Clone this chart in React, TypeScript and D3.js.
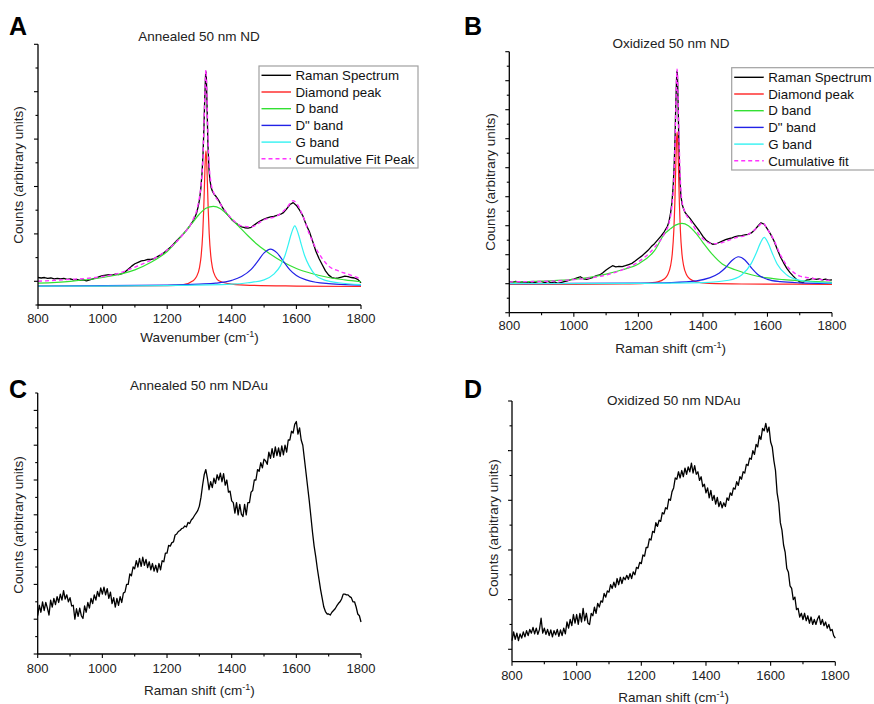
import React from 'react';
import * as d3 from 'd3';

const FONT = '"Liberation Sans", Arial, Helvetica, sans-serif';
const NARROW = '"Liberation Sans Narrow", "Arial Narrow", "Liberation Sans", Arial, sans-serif';

// ---------- shared axis data ----------
const xTickLabels = [800, 1000, 1200, 1400, 1600, 1800];
const xMinorTicks = [900, 1100, 1300, 1500, 1700];

// x grids (cm-1)
const gridLeft = d3.range(800, 1295, 10);
const gridPeak = [1295, 1300, 1304, 1308, 1311, 1314, 1316, 1318, 1319, 1320, 1321, 1322, 1324, 1326, 1329, 1332, 1336, 1340, 1345];
const gridRight = d3.range(1350, 1801, 10);
const shiftAB = [...gridLeft, ...gridPeak, ...gridRight];
const shiftCD = d3.range(800, 1801, 5);

// ---------- Panel A : Annealed 50 nm ND ----------
const ramanA = [
  0.08, 0.07, 0.08, 0.06, 0.07, 0.05, 0.06, 0.05, 0.06, 0.04,
  0.05, 0.03, 0.04, 0.02, 0.03, 0.01, 0.03, 0.05, 0.07, 0.1,
  0.12, 0.13, 0.14, 0.13, 0.15, 0.14, 0.16, 0.2, 0.26, 0.32,
  0.37, 0.4, 0.43, 0.44, 0.46, 0.46, 0.48, 0.52, 0.56, 0.6,
  0.66, 0.72, 0.79, 0.86, 0.93, 1.0, 1.08, 1.17, 1.27, 1.42,
  1.55, 1.72, 1.95, 2.3, 2.7, 3.3, 3.8, 4.2, 4.38, 4.42, 4.35, 4.1, 3.5, 2.9, 2.4, 2.15, 1.98, 1.9, 1.84,
  1.8, 1.7, 1.57, 1.46, 1.38, 1.3, 1.24, 1.19, 1.15, 1.13,
  1.12, 1.14, 1.19, 1.24, 1.28, 1.31, 1.34, 1.36, 1.37, 1.39,
  1.41, 1.45, 1.53, 1.62, 1.66, 1.6, 1.5, 1.38, 1.2, 1.05,
  0.85, 0.64, 0.48, 0.35, 0.22, 0.13, 0.08, 0.06, 0.07, 0.09,
  0.11, 0.1, 0.08, 0.07, 0.04, -0.03,
];
const diamondAx = [800, 1000, 1200, 1250, 1280, 1290, 1300, 1305, 1310, 1313, 1316, 1318, 1320, 1322, 1324, 1327, 1330, 1335, 1340, 1350, 1360, 1390, 1440, 1600, 1800];
const diamondAy = [-0.1, -0.1, -0.09, -0.07, 0.01, 0.09, 0.29, 0.53, 1.01, 1.51, 2.18, 2.58, 2.75, 2.58, 2.18, 1.51, 1.01, 0.53, 0.29, 0.09, 0.01, -0.05, -0.08, -0.1, -0.11];
const dBandAx = [800, 900, 1000, 1100, 1150, 1200, 1250, 1280, 1300, 1320, 1343, 1365, 1390, 1420, 1450, 1480, 1520, 1560, 1600, 1650, 1700, 1750, 1800];
const dBandAy = [-0.04, 0.0, 0.08, 0.24, 0.4, 0.63, 1.0, 1.25, 1.42, 1.54, 1.58, 1.53, 1.38, 1.17, 0.96, 0.77, 0.57, 0.4, 0.27, 0.16, 0.08, 0.03, -0.01];
const d2BandAx = [800, 1000, 1200, 1300, 1350, 1400, 1430, 1460, 1480, 1500, 1520, 1540, 1560, 1580, 1600, 1630, 1660, 1700, 1750, 1800];
const d2BandAy = [-0.1, -0.09, -0.08, -0.06, -0.04, 0.02, 0.1, 0.25, 0.42, 0.6, 0.68, 0.6, 0.42, 0.24, 0.12, 0.03, -0.02, -0.05, -0.07, -0.08];
const gBandAx = [800, 1000, 1200, 1400, 1450, 1500, 1530, 1550, 1565, 1575, 1585, 1595, 1605, 1615, 1625, 1640, 1660, 1690, 1730, 1800];
const gBandAy = [-0.1, -0.1, -0.09, -0.06, -0.03, 0.03, 0.15, 0.32, 0.55, 0.78, 1.02, 1.17, 1.02, 0.78, 0.55, 0.32, 0.12, 0.02, -0.03, -0.07];
const cumAx = [800, 850, 900, 950, 1000, 1050, 1100, 1150, 1200, 1250, 1280, 1295, 1305, 1310, 1314, 1317, 1320, 1323, 1326, 1330, 1335, 1345, 1360, 1380, 1400, 1430, 1460, 1500, 1540, 1570, 1590, 1600, 1620, 1640, 1660, 1680, 1700, 1730, 1760, 1800];
const cumAy = [0.0, 0.02, 0.04, 0.06, 0.1, 0.17, 0.3, 0.45, 0.66, 1.0, 1.3, 1.6, 2.05, 2.5, 3.3, 4.0, 4.46, 3.9, 3.1, 2.45, 2.1, 1.85, 1.68, 1.48, 1.32, 1.17, 1.15, 1.3, 1.38, 1.55, 1.7, 1.65, 1.38, 1.0, 0.7, 0.48, 0.32, 0.22, 0.15, 0.05];

// ---------- Panel B : Oxidized 50 nm ND ----------
const ramanB = [
  0.07, 0.05, 0.08, 0.04, 0.06, 0.03, 0.06, 0.02, 0.05, 0.07,
  0.07, 0.04, 0.08, 0.03, 0.06, 0.01, 0.04, 0.07, 0.1, 0.14,
  0.16, 0.2, 0.24, 0.17, 0.15, 0.18, 0.22, 0.28, 0.3, 0.38,
  0.47, 0.55, 0.62, 0.58, 0.6, 0.59, 0.62, 0.66, 0.7, 0.78,
  0.87, 0.95, 1.05, 1.15, 1.28, 1.38, 1.51, 1.64, 1.79, 1.98,
  2.15, 2.45, 2.8, 3.4, 4.1, 5.2, 6.2, 6.95, 7.25, 7.33, 7.2, 6.8, 5.7, 4.5, 3.5, 3.0, 2.72, 2.58, 2.45,
  2.38, 2.25, 2.1, 1.95, 1.8, 1.63, 1.5, 1.42, 1.36, 1.37,
  1.42, 1.47, 1.52, 1.55, 1.58, 1.62, 1.65, 1.66, 1.68, 1.7,
  1.75, 1.85, 1.98, 2.1, 2.05, 1.88, 1.7, 1.48, 1.2, 0.93,
  0.72, 0.53, 0.38, 0.26, 0.15, 0.06, 0.04, 0.12, 0.14, 0.18,
  0.15, 0.17, 0.13, 0.16, 0.12, 0.13,
];
const diamondBx = [800, 1000, 1150, 1220, 1260, 1280, 1290, 1300, 1305, 1310, 1313, 1316, 1318, 1320, 1322, 1324, 1327, 1330, 1335, 1340, 1350, 1360, 1380, 1420, 1520, 1800];
const diamondBy = [-0.02, -0.02, -0.01, 0.01, 0.06, 0.16, 0.29, 0.63, 1.03, 1.87, 2.79, 4.08, 4.89, 5.24, 4.89, 4.08, 2.79, 1.87, 1.03, 0.63, 0.29, 0.16, 0.06, 0.01, -0.01, -0.02];
const dBandBx = [800, 900, 1000, 1100, 1150, 1200, 1250, 1280, 1300, 1315, 1335, 1355, 1380, 1400, 1430, 1460, 1500, 1550, 1600, 1650, 1700, 1750, 1800];
const dBandBy = [0.05, 0.09, 0.15, 0.33, 0.48, 0.68, 1.14, 1.7, 1.9, 2.02, 2.08, 2.0, 1.72, 1.42, 1.0, 0.68, 0.48, 0.31, 0.2, 0.14, 0.1, 0.07, 0.05];
const d2BandBx = [800, 1000, 1200, 1300, 1380, 1420, 1450, 1470, 1490, 1510, 1530, 1550, 1570, 1600, 1640, 1700, 1800];
const d2BandBy = [0.0, 0.01, 0.02, 0.04, 0.1, 0.2, 0.36, 0.55, 0.8, 0.93, 0.82, 0.55, 0.32, 0.15, 0.07, 0.03, 0.01];
const gBandBx = [800, 1200, 1400, 1480, 1520, 1550, 1565, 1578, 1590, 1602, 1615, 1630, 1660, 1700, 1750, 1800];
const gBandBy = [0.0, 0.01, 0.04, 0.12, 0.3, 0.7, 1.05, 1.4, 1.6, 1.4, 1.05, 0.68, 0.3, 0.12, 0.05, 0.02];
const cumBx = [800, 850, 900, 950, 1000, 1050, 1100, 1150, 1200, 1250, 1280, 1295, 1305, 1310, 1314, 1317, 1320, 1323, 1326, 1330, 1335, 1345, 1360, 1380, 1400, 1430, 1460, 1500, 1540, 1570, 1585, 1600, 1620, 1640, 1660, 1680, 1700, 1730, 1760, 1800];
const cumBy = [0.06, 0.07, 0.08, 0.1, 0.14, 0.2, 0.3, 0.48, 0.75, 1.25, 1.72, 2.1, 2.8, 3.6, 5.0, 6.5, 7.4, 6.4, 5.0, 3.6, 2.85, 2.45, 2.2, 1.82, 1.55, 1.38, 1.42, 1.58, 1.7, 1.95, 2.1, 1.88, 1.5, 1.0, 0.62, 0.4, 0.26, 0.2, 0.15, 0.1];

// ---------- Panel C : Annealed 50 nm NDAu ----------
const ramanC = [
  1.1, 1.4, 1.2, 1.5, 1.25, 1.48, 1.32, 1.12, 1.55, 1.35,
  1.6, 1.42, 1.65, 1.48, 1.72, 1.55, 1.82, 1.58, 1.7, 1.5,
  1.62, 1.38, 1.4, 1.0, 1.3, 1.08, 1.32, 1.1, 1.02, 1.38,
  1.2, 1.48, 1.32, 1.6, 1.45, 1.7, 1.55, 1.8, 1.65, 1.9,
  1.72, 1.92, 1.7, 1.88, 1.6, 1.78, 1.45, 1.62, 1.35, 1.6,
  1.4, 1.65, 1.48, 1.75, 1.78, 2.0, 2.0, 2.3, 2.25, 2.5,
  2.45, 2.68, 2.5, 2.75, 2.52, 2.78, 2.55, 2.72, 2.48, 2.65,
  2.42, 2.6, 2.38, 2.55, 2.35, 2.6, 2.42, 2.68, 2.65, 2.9,
  2.9, 3.12, 3.1, 3.2, 3.22, 3.42, 3.45, 3.52, 3.55, 3.6,
  3.62, 3.68, 3.65, 3.78, 3.75, 3.85, 3.9, 3.98, 4.05, 4.12,
  4.25, 4.5, 4.85, 5.15, 5.3, 5.05, 4.72, 4.95, 4.78, 5.05,
  4.9, 5.15, 5.0, 5.2, 4.95, 5.18, 4.85, 5.0, 4.65, 4.68,
  4.4, 4.35, 4.05, 4.35, 4.0, 4.3, 4.02, 3.95, 4.3, 4.0,
  4.35, 4.35, 4.65, 4.7, 5.0, 5.0, 5.3, 5.25, 5.5, 5.35,
  5.6, 5.55, 5.45, 5.8, 5.62, 5.9, 5.65, 5.95, 5.7, 5.92,
  5.68, 5.98, 5.72, 6.0, 5.8, 6.15, 6.15, 6.4, 6.35, 6.6,
  6.68, 6.32, 6.5, 6.15, 6.0, 5.6, 5.2, 4.8, 4.4, 3.95,
  3.5, 3.1, 2.8, 2.45, 2.15, 1.85, 1.6, 1.35, 1.22, 1.15,
  1.15, 1.12, 1.2, 1.25, 1.3, 1.38, 1.45, 1.5, 1.58, 1.72,
  1.72, 1.7, 1.7, 1.65, 1.62, 1.5, 1.5, 1.35, 1.15, 1.1,
  0.92,
];

// ---------- Panel D : Oxidized 50 nm NDAu ----------
const ramanD = [
  0.85, 1.2, 0.9, 1.15, 0.85, 1.12, 0.95, 1.2, 1.0, 1.25,
  1.05, 1.3, 1.15, 1.38, 1.12, 1.35, 1.1, 1.3, 1.75, 1.15,
  1.35, 1.1, 1.3, 1.05, 1.28, 1.0, 1.25, 1.08, 1.3, 1.02,
  1.28, 1.05, 1.35, 1.12, 1.6, 1.35, 1.7, 1.45, 1.9, 1.55,
  1.9, 1.5, 1.95, 1.6, 2.15, 1.65, 1.95, 1.55, 1.5, 1.95,
  1.85, 2.2, 1.95, 2.35, 2.2, 2.45, 2.4, 2.75, 2.6, 2.85,
  2.8, 3.1, 2.95, 3.2, 3.0, 3.35, 3.1, 3.4, 3.15, 3.4,
  3.3, 3.48, 3.32, 3.55, 3.35, 3.62, 3.5, 3.8, 3.75, 4.0,
  3.95, 4.3, 4.25, 4.6, 4.6, 4.95, 4.9, 5.25, 5.2, 5.6,
  5.45, 5.7, 5.65, 6.0, 5.95, 6.2, 6.15, 6.55, 6.5, 6.85,
  7.0, 7.4, 7.35, 7.65, 7.4, 7.7, 7.45, 7.8, 7.55, 7.85,
  7.65, 8.0, 7.6, 7.9, 7.55, 7.65, 7.3, 7.45, 7.05, 7.15,
  6.8, 7.0, 6.6, 6.9, 6.5, 6.7, 6.35, 6.62, 6.25, 6.45,
  6.2, 6.4, 6.25, 6.6, 6.5, 6.8, 6.7, 7.0, 6.95, 7.25,
  7.1, 7.45, 7.35, 7.65, 7.6, 7.95, 7.9, 8.2, 8.15, 8.5,
  8.35, 8.75, 8.65, 9.1, 8.95, 9.4, 9.3, 9.6, 9.25, 9.45,
  8.85, 8.65, 8.1, 7.7, 6.8, 6.4, 5.6, 5.3, 4.7, 4.4,
  3.75, 3.6, 3.05, 2.95, 2.5, 2.6, 2.1, 2.15, 1.8, 1.95,
  1.7, 1.95, 1.65, 1.85, 1.55, 1.8, 1.5, 1.7, 1.5, 1.72,
  1.85, 1.5, 1.7, 1.45, 1.6, 1.35, 1.5, 1.25, 1.3, 1.05,
  0.95,
];

const legendLabelsA = ['Raman Spectrum', 'Diamond peak', 'D band', 'D" band', 'G band', 'Cumulative Fit Peak'];
const legendLabelsB = ['Raman Spectrum', 'Diamond peak', 'D band', 'D" band', 'G band', 'Cumulative fit'];

// ---------- styles ----------
const C_BLACK = '#000000';
const C_RED = '#ff2222';
const C_GREEN = '#33e033';
const C_BLUE = '#2222e6';
const C_CYAN = '#33f2f2';
const C_MAG = '#ff33ff';

type Series = { xs: number[]; ys: number[]; color: string; width: number; dash?: string; smooth?: boolean };

function zip(xs: number[], ys: number[]): [number, number][] {
  const n = Math.min(xs.length, ys.length);
  const out: [number, number][] = [];
  for (let i = 0; i < n; i++) out.push([xs[i], ys[i]]);
  return out;
}

function fitSeries(raw: number[], dia: [number[], number[]], d: [number[], number[]], d2: [number[], number[]], g: [number[], number[]], cum: [number[], number[]]): Series[] {
  return [
    { xs: shiftAB, ys: raw, color: C_BLACK, width: 1.3 },
    { xs: dia[0], ys: dia[1], color: C_RED, width: 1.2, smooth: true },
    { xs: d[0], ys: d[1], color: C_GREEN, width: 1.2, smooth: true },
    { xs: d2[0], ys: d2[1], color: C_BLUE, width: 1.2, smooth: true },
    { xs: g[0], ys: g[1], color: C_CYAN, width: 1.2, smooth: true },
    { xs: cum[0], ys: cum[1], color: C_MAG, width: 1.4, dash: '4,3', smooth: true },
  ];
}

type PanelCfg = {
  left: number; right: number; top: number; bottom: number;
  yDomain: [number, number]; yTicks: { v: number; major: boolean }[];
  series: Series[];
  title: string; titleX: number; titleY: number;
  letter: string; letterX: number; letterY: number;
  ylabelX: number; ylabelY: number;
  xlabel: string; xlabelY: number; tickLabelY: number;
  legend?: { x: number; y: number; w: number; h: number; row0: number; labels: string[] };
};

function halfTicks(lo: number, hi: number, majorTest: (v: number) => boolean) {
  const out: { v: number; major: boolean }[] = [];
  for (let v = lo; v <= hi + 1e-9; v += 0.5) out.push({ v, major: majorTest(v) });
  return out;
}

function Panel({ cfg }: { cfg: PanelCfg }) {
  const x = d3.scaleLinear().domain([800, 1800]).range([cfg.left, cfg.right]);
  const y = d3.scaleLinear().domain(cfg.yDomain).range([cfg.bottom, cfg.top]);
  const mk = (s: Series) =>
    d3.line<[number, number]>()
      .x((d) => x(d[0]))
      .y((d) => y(d[1]))
      .curve(s.smooth ? d3.curveMonotoneX : d3.curveLinear)(zip(s.xs, s.ys)) || '';
  const legendColors = [C_BLACK, C_RED, C_GREEN, C_BLUE, C_CYAN, C_MAG];
  return (
    <g>
      {cfg.series.map((s, i) => (
        <path key={i} d={mk(s)} fill="none" stroke={s.color} strokeWidth={s.width}
          strokeDasharray={s.dash} strokeLinejoin="round" />
      ))}
      {/* axes */}
      <line x1={cfg.left} x2={cfg.left} y1={cfg.top} y2={cfg.bottom} stroke="#000" strokeWidth={1.3} />
      <line x1={cfg.left} x2={cfg.right} y1={cfg.bottom} y2={cfg.bottom} stroke="#000" strokeWidth={1.3} />
      {cfg.yTicks.map((t, i) => (
        <line key={'yt' + i} x1={cfg.left - (t.major ? 4 : 2.5)} x2={cfg.left} y1={y(t.v)} y2={y(t.v)} stroke="#000" strokeWidth={1.1} />
      ))}
      {xTickLabels.map((v) => (
        <line key={'xt' + v} x1={x(v)} x2={x(v)} y1={cfg.bottom} y2={cfg.bottom + 4} stroke="#000" strokeWidth={1.1} />
      ))}
      {xMinorTicks.map((v) => (
        <line key={'xm' + v} x1={x(v)} x2={x(v)} y1={cfg.bottom} y2={cfg.bottom + 2.5} stroke="#000" strokeWidth={1.1} />
      ))}
      {xTickLabels.map((v) => (
        <text key={'xl' + v} x={x(v)} y={cfg.tickLabelY} textAnchor="middle" fontFamily={NARROW} fontSize={13} fill="#222">{v}</text>
      ))}
      {/* axis titles */}
      <text x={(cfg.left + cfg.right) / 2} y={cfg.xlabelY} textAnchor="middle" fontFamily={FONT} fontSize={13.5} fill="#222">
        <tspan>{cfg.xlabel} (cm</tspan>
        <tspan dy={-5} fontSize={9}>-1</tspan>
        <tspan dy={5}>)</tspan>
      </text>
      <text transform={`translate(${cfg.ylabelX},${cfg.ylabelY}) rotate(-90)`} textAnchor="middle" dominantBaseline="middle"
        fontFamily={FONT} fontSize={13.5} fill="#222">Counts (arbitrary units)</text>
      <text x={cfg.titleX} y={cfg.titleY} textAnchor="middle" dominantBaseline="middle" fontFamily={FONT} fontSize={13.5} fill="#222">{cfg.title}</text>
      <text x={cfg.letterX} y={cfg.letterY} fontFamily={FONT} fontWeight="bold" fontSize={25} fill="#000">{cfg.letter}</text>
      {cfg.legend && (
        <g>
          <rect x={cfg.legend.x} y={cfg.legend.y} width={cfg.legend.w} height={cfg.legend.h} fill="#fff" stroke="#a0a0a0" strokeWidth={1.2} />
          {cfg.legend.labels.map((lab, i) => {
            const yy = cfg.legend!.row0 + i * 16.7;
            return (
              <g key={lab}>
                <line x1={cfg.legend!.x + 2.5} x2={cfg.legend!.x + 32} y1={yy} y2={yy} stroke={legendColors[i]}
                  strokeWidth={i === 5 ? 1.5 : 1.4} strokeDasharray={i === 5 ? '4,3' : undefined} />
                <text x={cfg.legend!.x + 36.5} y={yy + 4.7} fontFamily={FONT} fontSize={13.3} fill="#111">{lab}</text>
              </g>
            );
          })}
        </g>
      )}
    </g>
  );
}

export default function App() {
  const panels: PanelCfg[] = [
    {
      left: 38, right: 361, top: 44.3, bottom: 305, yDomain: [-0.5, 5],
      yTicks: halfTicks(-0.5, 5, (v) => Number.isInteger(v)),
      series: fitSeries(ramanA, [diamondAx, diamondAy], [dBandAx, dBandAy], [d2BandAx, d2BandAy], [gBandAx, gBandAy], [cumAx, cumAy]),
      title: 'Annealed 50 nm ND', titleX: 199, titleY: 37,
      letter: 'A', letterX: 9, letterY: 35,
      ylabelX: 19.5, ylabelY: 175,
      xlabel: 'Wavenumber', xlabelY: 342, tickLabelY: 322.5,
      legend: { x: 259, y: 66, w: 159, h: 102, row0: 75.3, labels: legendLabelsA },
    },
    {
      left: 509.3, right: 832, top: 51.7, bottom: 312.7, yDomain: [-1, 8],
      yTicks: halfTicks(-1, 8, (v) => Number.isInteger(v)),
      series: fitSeries(ramanB, [diamondBx, diamondBy], [dBandBx, dBandBy], [d2BandBx, d2BandBy], [gBandBx, gBandBy], [cumBx, cumBy]),
      title: 'Oxidized 50 nm ND', titleX: 671, titleY: 44,
      letter: 'B', letterX: 464, letterY: 35,
      ylabelX: 491, ylabelY: 182,
      xlabel: 'Raman shift', xlabelY: 353, tickLabelY: 329.5,
      legend: { x: 731.7, y: 67.7, w: 160, h: 102.3, row0: 77.3, labels: legendLabelsB },
    },
    {
      left: 37.7, right: 361, top: 393, bottom: 654, yDomain: [0, 7.5],
      yTicks: halfTicks(0, 7.5, (v) => Number.isInteger(v)),
      series: [{ xs: shiftCD, ys: ramanC, color: C_BLACK, width: 1.3 }],
      title: 'Annealed 50 nm NDAu', titleX: 199, titleY: 386.7,
      letter: 'C', letterX: 9, letterY: 398,
      ylabelX: 19.5, ylabelY: 525,
      xlabel: 'Raman shift', xlabelY: 695, tickLabelY: 672.5,
      legend: undefined,
    },
    {
      left: 512, right: 835.3, top: 401, bottom: 661.7, yDomain: [0, 10.5],
      yTicks: halfTicks(0.5, 10.5, (v) => Number.isInteger(v - 0.5) && (v - 0.5) % 2 === 0).filter((t) => Number.isInteger(t.v - 0.5)),
      series: [{ xs: shiftCD, ys: ramanD, color: C_BLACK, width: 1.3 }],
      title: 'Oxidized 50 nm NDAu', titleX: 673.7, titleY: 401.7,
      letter: 'D', letterX: 464, letterY: 398,
      ylabelX: 494, ylabelY: 528,
      xlabel: 'Raman shift', xlabelY: 701.5, tickLabelY: 679.5,
      legend: undefined,
    },
  ];
  return (
    <svg width={874} height={704} viewBox="0 0 874 704"
      style={{ position: 'absolute', left: 0, top: 0, display: 'block', background: '#fff' }}>
      <rect x={0} y={0} width={874} height={704} fill="#fff" />
      {panels.map((p, i) => <Panel key={i} cfg={p} />)}
    </svg>
  );
}
